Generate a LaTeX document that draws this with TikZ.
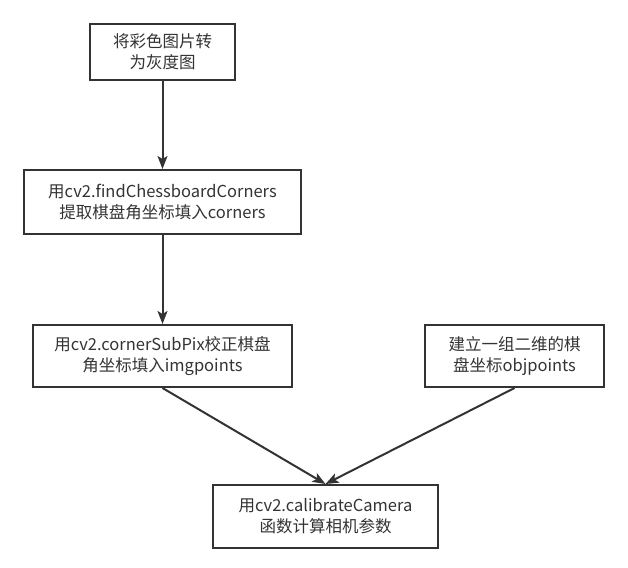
\documentclass[tikz,border=0pt]{standalone}
\usepackage{fontspec}
\setmainfont{Noto Sans CJK SC}
\usepackage{tikz}
\usetikzlibrary{shapes,arrows,positioning,calc,arrows.meta}

\definecolor{linegray}{HTML}{333333}

\begin{document}
\begin{tikzpicture}[x=1pt, y=1pt, node distance=88pt, auto,
    stepbox/.style={draw=linegray, line width=2pt, rectangle, align=center, text=linegray, font=\fontsize{16.5}{21}\selectfont, inner sep=0pt},
    flow/.style={draw=linegray, line width=2pt, -{Stealth[length=13pt, width=10pt, inset=3pt]}}]
    \useasboundingbox (0,0) rectangle (628,-567);
    \node[stepbox, minimum width=145pt, minimum height=56pt] (gray) at (162.5,-52) {将彩色图片转\\为灰度图};
    \node[stepbox, minimum width=277pt, minimum height=64pt, below=88pt of gray] (find) {用cv2.findChessboardCorners\\提取棋盘角坐标填入corners};
    \node[stepbox, minimum width=259pt, minimum height=62pt, below=89pt of find] (subpix) {用cv2.cornerSubPix校正棋盘\\角坐标填入imgpoints};
    \node[stepbox, minimum width=179pt, minimum height=62pt, right=131pt of subpix] (obj) {建立一组二维的棋\\盘坐标objpoints};
    \node[stepbox, minimum width=225pt, minimum height=63pt, below=96pt of subpix, xshift=163pt] (calib) {用cv2.calibrateCamera\\函数计算相机参数};

    \draw[flow] (gray) -- (find);
    \draw[flow] (find) -- (subpix);
    \draw[flow] (subpix.south) -- (calib.north);
    \draw[flow] (obj.south) -- (calib.north);
\end{tikzpicture}
\end{document}
